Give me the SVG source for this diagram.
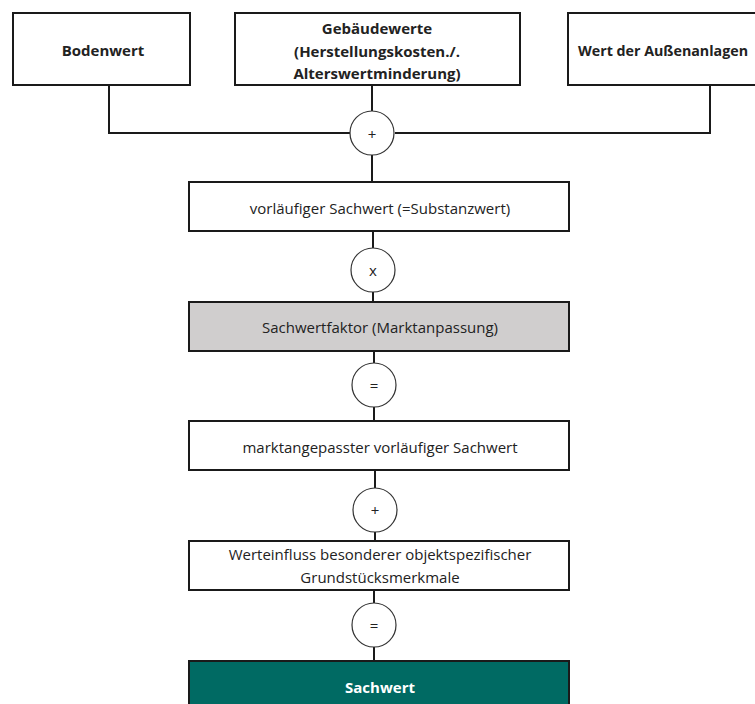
<svg xmlns="http://www.w3.org/2000/svg" width="755" height="704" viewBox="0 0 755 704">
<style>
.box{fill:#fff;stroke:#1a1a1a;stroke-width:2}
.op{fill:#fff;stroke:#333;stroke-width:1.2}
.ln{fill:none;stroke:#1a1a1a;stroke-width:2}
.t{font-family:"Open Sans","Liberation Sans",sans-serif;font-size:15px;fill:#222;text-anchor:middle;dominant-baseline:central}
.b{font-weight:bold}
.w{fill:#fff}
</style>
<rect width="755" height="704" fill="#fff"/>
<g id="connectors">
<polyline class="ln" points="109,85 109,133 350,133"/>
<polyline class="ln" points="710,85 710,133 395,133"/>
<line class="ln" x1="372" y1="85" x2="372" y2="111"/>
<line class="ln" x1="372" y1="155" x2="372" y2="182"/>
<line class="ln" x1="373" y1="231" x2="373" y2="248"/>
<line class="ln" x1="373" y1="292" x2="373" y2="302"/>
<line class="ln" x1="374" y1="351" x2="374" y2="363"/>
<line class="ln" x1="374" y1="407" x2="374" y2="421"/>
<line class="ln" x1="375" y1="470" x2="375" y2="488"/>
<line class="ln" x1="375" y1="532" x2="375" y2="541"/>
<line class="ln" x1="374" y1="590" x2="374" y2="603"/>
<line class="ln" x1="374" y1="647" x2="374" y2="661"/>
</g>
<g id="bodenwert"><rect class="box" x="13" y="13" width="177" height="72"/><text class="t b" x="103" y="50">Bodenwert</text></g>
<g id="gebaeudewerte"><rect class="box" x="235" y="13" width="285" height="72"/>
<text class="t b" x="377" y="28">Gebäudewerte</text>
<text class="t b" x="377" y="51">(Herstellungskosten./.</text>
<text class="t b" x="377" y="73">Alterswertminderung)</text></g>
<g id="aussenanlagen"><rect class="box" x="568" y="13" width="200" height="72"/><text class="t b" x="578" y="50" style="text-anchor:start" textLength="170" lengthAdjust="spacingAndGlyphs">Wert der Außenanlagen</text></g>
<g id="op1"><circle class="op" cx="372" cy="133" r="22"/><text class="t" x="372" y="134">+</text></g>
<g id="vorlaeufig"><rect class="box" x="189" y="182" width="380" height="49"/><text class="t" x="380" y="208">vorläufiger Sachwert (=Substanzwert)</text></g>
<g id="op2"><circle class="op" cx="373" cy="270" r="22"/><text class="t" x="373" y="270">x</text></g>
<g id="faktor"><rect class="box" x="189" y="302" width="380" height="49" style="fill:#d0cece"/><text class="t" x="380" y="327">Sachwertfaktor (Marktanpassung)</text></g>
<g id="op3"><circle class="op" cx="374" cy="385" r="22"/><text class="t" x="374" y="385">=</text></g>
<g id="marktangepasst"><rect class="box" x="189" y="421" width="380" height="49"/><text class="t" x="380" y="447">marktangepasster vorläufiger Sachwert</text></g>
<g id="op4"><circle class="op" cx="375" cy="510" r="22"/><text class="t" x="375" y="510">+</text></g>
<g id="werteinfluss"><rect class="box" x="189" y="541" width="380" height="49"/>
<text class="t" x="380" y="554">Werteinfluss besonderer objektspezifischer</text>
<text class="t" x="380" y="577">Grundstücksmerkmale</text></g>
<g id="op5"><circle class="op" cx="374" cy="625" r="22"/><text class="t" x="374" y="625">=</text></g>
<g id="sachwert"><rect class="box" x="189" y="661" width="380" height="60" style="fill:#006a63"/><text class="t b w" x="380" y="687">Sachwert</text></g>
</svg>
